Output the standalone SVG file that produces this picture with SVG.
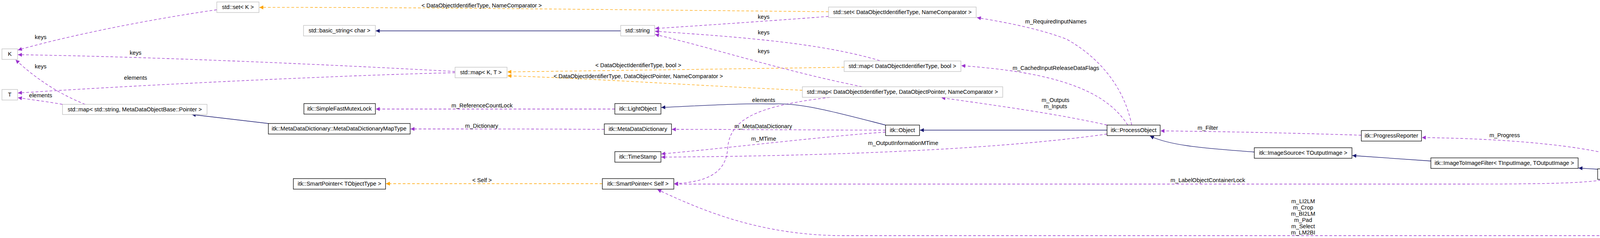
<svg xmlns="http://www.w3.org/2000/svg" width="5381" height="609" viewBox="0 0 5381 609">
<style>
.n rect{fill:#fff;stroke:#000;stroke-width:1.3}
.g rect{fill:#fff;stroke:#bfbfbf;stroke-width:1.3}
.main rect{fill:#bfbfbf;stroke:#000;stroke-width:1.3}
text{font-family:"Liberation Sans",Arial,sans-serif;font-size:14.5px;fill:#000;text-anchor:middle}
.p{fill:none;stroke:#9a32cd;stroke-width:1.3;stroke-dasharray:7,5;marker-end:url(#ap)}
.o{fill:none;stroke:#ffa500;stroke-width:1.3;stroke-dasharray:7,5;marker-end:url(#ao)}
.b{fill:none;stroke:#191970;stroke-width:1.3;marker-end:url(#ab)}
</style>
<defs>
<marker id="ap" viewBox="0 0 10 10" refX="10" refY="5" markerWidth="12" markerHeight="10" markerUnits="userSpaceOnUse" orient="auto"><path d="M0,0 L10,5 L0,10 z" fill="#9a32cd"/></marker>
<marker id="ao" viewBox="0 0 10 10" refX="10" refY="5" markerWidth="12" markerHeight="10" markerUnits="userSpaceOnUse" orient="auto"><path d="M0,0 L10,5 L0,10 z" fill="#ffa500"/></marker>
<marker id="ab" viewBox="0 0 10 10" refX="10" refY="5" markerWidth="12" markerHeight="10" markerUnits="userSpaceOnUse" orient="auto"><path d="M0,0 L10,5 L0,10 z" fill="#191970"/></marker>
</defs>
<g id="edges">
<path class="o" d="M2121,30 C1600,25 1000,18 664,19"/>
<path class="p" d="M555,25 C380,50 180,90 46,128"/>
<path class="p" d="M2121,42 C1950,55 1800,65 1677,73"/>
<path class="b" d="M1589,79 L962,79"/>
<path class="p" d="M1165,183 C900,168 400,145 46,140"/>
<path class="p" d="M1165,186 C900,192 400,215 46,238"/>
<path class="p" d="M218,267 C150,240 90,200 40,153"/>
<path class="p" d="M160,267 C120,260 80,255 46,250"/>
<path class="o" d="M2161,172 C1900,176 1600,180 1299,184"/>
<path class="o" d="M2054,231 C1800,220 1500,200 1299,194"/>
<path class="p" d="M2252,155 C2100,110 1900,95 1677,80"/>
<path class="p" d="M2207,222 C2000,180 1850,130 1677,88"/>
<path class="p" d="M2125,249 C1950,270 1870,300 1863,377 C1860,430 1830,465 1726,470"/>
<path class="b" d="M2267,320 C2150,290 2050,262 1980,266 C1900,264 1800,270 1693,275"/>
<path class="p" d="M2267,333 C2100,333 1900,331 1720,331"/>
<path class="p" d="M2267,338 C2100,350 1900,375 1693,394"/>
<path class="p" d="M1574,279 L962,279"/>
<path class="p" d="M1547,331 C1400,330 1200,330 1051,330"/>
<path class="b" d="M687,316 L491,293"/>
<path class="b" d="M2834,333 L2355,333"/>
<path class="p" d="M2897,320 C2880,230 2820,150 2730,100 C2650,70 2560,55 2501,45"/>
<path class="p" d="M2887,320 C2830,230 2700,185 2461,168"/>
<path class="p" d="M2834,320 C2700,290 2550,270 2410,250"/>
<path class="p" d="M2834,343 C2500,390 2000,400 1693,402"/>
<path class="p" d="M3485,346 C3300,340 3100,336 2971,335"/>
<path class="b" d="M3211,389 C3100,380 3000,375 2944,348"/>
<path class="b" d="M3663,412 L3462,398"/>
<path class="b" d="M4090,433 L4041,430"/>
<path class="p" d="M4215,432 C4150,380 3900,355 3640,352"/>
<path class="p" d="M4110,459 C4050,471 3900,471 3700,471 L1726,471"/>
<path class="b" d="M4848,543 L4348,460"/>
<path class="p" d="M4812,570 C4700,595 4600,603 4400,603 L2161,603 C1950,603 1800,540 1683,485"/>
<path class="o" d="M1542,470 L988,470"/>
</g>
<g id="labels">
<text x="1233" y="19">&lt; DataObjectIdentifierType, NameComparator &gt;</text>
<text x="104" y="100">keys</text>
<text x="1955" y="48">keys</text>
<text x="347" y="140">keys</text>
<text x="347" y="204">elements</text>
<text x="104" y="175">keys</text>
<text x="104" y="249">elements</text>
<text x="1634" y="172">&lt; DataObjectIdentifierType, bool &gt;</text>
<text x="1634" y="200">&lt; DataObjectIdentifierType, DataObjectPointer, NameComparator &gt;</text>
<text x="1955" y="88">keys</text>
<text x="1955" y="136">keys</text>
<text x="1955" y="261">elements</text>
<text x="1954" y="328">m_MetaDataDictionary</text>
<text x="1955" y="360">m_MTime</text>
<text x="1234" y="275">m_ReferenceCountLock</text>
<text x="1233" y="327">m_Dictionary</text>
<text x="2703" y="60">m_RequiredInputNames</text>
<text x="2703" y="179">m_CachedInputReleaseDataFlags</text>
<text x="2702" y="261">m_Outputs</text>
<text x="2702" y="277">m_Inputs</text>
<text x="2312" y="371">m_OutputInformationMTime</text>
<text x="3092" y="332">m_Filter</text>
<text x="3852" y="351">m_Progress</text>
<text x="3092" y="466">m_LabelObjectContainerLock</text>
<text x="3336" y="520">m_LI2LM</text>
<text x="3336" y="536">m_Crop</text>
<text x="3336" y="552">m_BI2LM</text>
<text x="3336" y="568">m_Pad</text>
<text x="3336" y="584">m_Select</text>
<text x="3336" y="600">m_LM2BI</text>
<text x="1234" y="466">&lt; Self &gt;</text>
</g>
<g id="K" class="g"><rect x="5" y="125" width="40" height="27"/><text x="25" y="143">K</text></g>
<g id="T" class="g"><rect x="5" y="229" width="40" height="27"/><text x="25" y="247">T</text></g>
<g id="setK" class="g"><rect x="555" y="5" width="108" height="27"/><text x="609" y="23">std::set&lt; K &gt;</text></g>
<g id="mapStrMDOB" class="g"><rect x="160" y="267" width="370" height="26"/><text x="345" y="285">std::map&lt; std::string, MetaDataObjectBase::Pointer &gt;</text></g>
<g id="basicString" class="g"><rect x="777" y="65" width="184" height="27"/><text x="869" y="83">std::basic_string&lt; char &gt;</text></g>
<g id="mapKT" class="g"><rect x="1165" y="172" width="133" height="27"/><text x="1231" y="190">std::map&lt; K, T &gt;</text></g>
<g id="mutex" class="n"><rect x="778" y="265" width="183" height="27"/><text x="869" y="283">itk::SimpleFastMutexLock</text></g>
<g id="mddMapType" class="n"><rect x="687" y="316" width="363" height="27"/><text x="868" y="334">itk::MetaDataDictionary::MetaDataDictionaryMapType</text></g>
<g id="stdString" class="g"><rect x="1589" y="65" width="87" height="27"/><text x="1632" y="83">std::string</text></g>
<g id="setDOI" class="g"><rect x="2121" y="18" width="378" height="27"/><text x="2310" y="36">std::set&lt; DataObjectIdentifierType, NameComparator &gt;</text></g>
<g id="mapBool" class="g"><rect x="2161" y="156" width="299" height="27"/><text x="2310" y="174">std::map&lt; DataObjectIdentifierType, bool &gt;</text></g>
<g id="mapDOP" class="g"><rect x="2054" y="222" width="513" height="27"/><text x="2310" y="240">std::map&lt; DataObjectIdentifierType, DataObjectPointer, NameComparator &gt;</text></g>
<g id="lightObject" class="n"><rect x="1574" y="265" width="118" height="27"/><text x="1633" y="283">itk::LightObject</text></g>
<g id="mdd" class="n"><rect x="1547" y="317" width="172" height="27"/><text x="1633" y="335">itk::MetaDataDictionary</text></g>
<g id="timeStamp" class="n"><rect x="1574" y="388" width="118" height="27"/><text x="1633" y="406">itk::TimeStamp</text></g>
<g id="spTObject" class="n"><rect x="751" y="457" width="236" height="27"/><text x="869" y="475">itk::SmartPointer&lt; TObjectType &gt;</text></g>
<g id="spSelf" class="n"><rect x="1542" y="457" width="183" height="27"/><text x="1633" y="475">itk::SmartPointer&lt; Self &gt;</text></g>
<g id="object" class="n"><rect x="2267" y="320" width="87" height="27"/><text x="2310" y="338">itk::Object</text></g>
<g id="processObject" class="n"><rect x="2834" y="320" width="136" height="27"/><text x="2902" y="338">itk::ProcessObject</text></g>
<g id="progressReporter" class="n"><rect x="3485" y="334" width="154" height="27"/><text x="3562" y="352">itk::ProgressReporter</text></g>
<g id="imageSource" class="n"><rect x="3211" y="378" width="250" height="27"/><text x="3336" y="396">itk::ImageSource&lt; TOutputImage &gt;</text></g>
<g id="imageToImage" class="n"><rect x="3663" y="404" width="377" height="27"/><text x="3851" y="422">itk::ImageToImageFilter&lt; TInputImage, TOutputImage &gt;</text></g>
<g id="labelMapFilter" class="n"><rect x="4090" y="432" width="345" height="27"/><text x="4262" y="450">itk::LabelMapFilter&lt; TInputImage, TOutputImage &gt;</text></g>
<g id="objByObj" class="main"><rect x="4486" y="543" width="890" height="26"/><text x="4931" y="561">itk::ObjectByObjectLabelMapFilter&lt; TInputImage, TOutputImage, TInputFilter, TOutputFilter, TInternalInputImage, TInternalOutputImage &gt;</text></g>
</svg>
